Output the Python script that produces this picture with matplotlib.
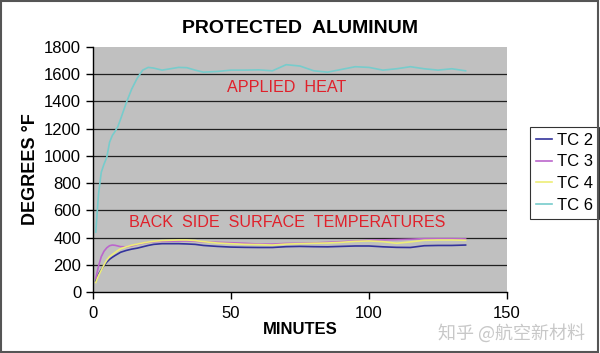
import matplotlib
matplotlib.use("Agg")
import matplotlib.pyplot as plt
from matplotlib.patches import Rectangle

minutes = [1, 2, 3, 4, 5, 6, 7, 8, 9, 10, 12, 14, 16, 18, 20, 22, 25, 28, 31, 34, 37, 40,
           45, 50, 55, 60, 65, 70, 75, 80, 85, 90, 95, 100, 105, 110, 115, 120, 125, 130, 135]

tc2 = [80, 130, 165, 195, 220, 240, 255, 268, 280, 292, 305, 315, 322, 332, 342, 350, 355, 355,
       355, 353, 350, 342, 335, 330, 328, 327, 327, 333, 335, 333, 332, 335, 338, 338, 332, 328,
       327, 340, 342, 342, 345]
tc3 = [100, 190, 260, 300, 325, 340, 345, 343, 338, 333, 332, 338, 350, 358, 365, 370, 372, 373,
       374, 375, 373, 368, 365, 362, 358, 352, 352, 357, 358, 360, 365, 370, 375, 380, 383, 385,
       388, 392, 392, 392, 390]
tc4 = [70, 120, 160, 200, 235, 260, 275, 290, 305, 318, 332, 343, 352, 360, 367, 373, 378, 380,
       382, 382, 378, 370, 360, 355, 350, 348, 345, 352, 355, 358, 360, 365, 372, 375, 370, 358,
       368, 380, 382, 382, 380]
tc6 = [440, 720, 880, 940, 990, 1100, 1150, 1180, 1215, 1270, 1387, 1490, 1570, 1630, 1650, 1645,
       1630, 1640, 1650, 1648, 1630, 1615, 1620, 1630, 1630, 1632, 1625, 1670, 1660, 1625, 1615,
       1635, 1655, 1650, 1630, 1640, 1655, 1640, 1630, 1640, 1625]

series_names = ["TC 2", "TC 3", "TC 4", "TC 6"]
series_colors = ["#33339c", "#bb66cc", "#eeee77", "#77cccc"]
x_ticks = [0, 50, 100, 150]
y_ticks = list(range(0, 1801, 200))

plt.rcParams['font.family'] = ['Liberation Sans', 'DejaVu Sans']

fig = plt.figure(figsize=(6.0, 3.53), dpi=100)
ax = fig.add_axes([0.155, 0.1728, 0.69, 0.6941])
ax.set_facecolor("#c0c0c0")

for vals, name, col in zip([tc2, tc3, tc4, tc6], series_names, series_colors):
    ax.plot(minutes, vals, color=col, lw=1.2, label=name)

ax.set_xlim(0, 150)
ax.set_ylim(0, 1800)
ax.set_xticks(x_ticks)
ax.set_yticks(y_ticks)
ax.tick_params(axis='both', direction='out', length=5, width=1, labelsize=12, colors='black')
ax.tick_params(axis='x', pad=5)
ax.grid(axis='y', color='#202020', lw=0.9)
ax.set_axisbelow(True)
ax.yaxis.get_gridlines()[-1].set_visible(False)
ax.yaxis.get_gridlines()[0].set_visible(False)
for s in ['top', 'right']:
    ax.spines[s].set_visible(False)
for s in ['left', 'bottom']:
    ax.spines[s].set_color('black')
    ax.spines[s].set_linewidth(1)

ax.set_xlabel("MINUTES", fontsize=12, fontweight='bold', labelpad=1)
ax.set_ylabel("DEGREES °F", fontsize=13, fontweight='bold', labelpad=4)
fig.text(0.5, 0.92, "PROTECTED  ALUMINUM", ha='center', va='center', fontsize=14, fontweight='bold')

ax.text(70, 1500, "APPLIED  HEAT", color='#e0202a', fontsize=11.6, ha='center', va='center')
ax.text(70.5, 507, "BACK  SIDE  SURFACE  TEMPERATURES", color='#e0202a', fontsize=11.6, ha='center', va='center')

leg = ax.legend(loc='center left', bbox_to_anchor=(1.055, 0.487), fontsize=12, frameon=True,
                fancybox=False, handlelength=1.0, handletextpad=0.3, borderpad=0.35,
                labelspacing=0.4, borderaxespad=0)
leg.get_frame().set_edgecolor('black')
leg.get_frame().set_linewidth(0.8)

fig.text(0.975, 0.055, "知乎 @航空新材料", ha='right', va='center', fontsize=13, color='#c8c8c8',
         family=['Noto Sans CJK SC', 'DejaVu Sans'])

fig.patches.append(Rectangle((0.002, 0.003), 0.994, 0.994, transform=fig.transFigure,
                             fill=False, edgecolor='#555555', lw=1.5))

fig.savefig("out.png", dpi=100)
